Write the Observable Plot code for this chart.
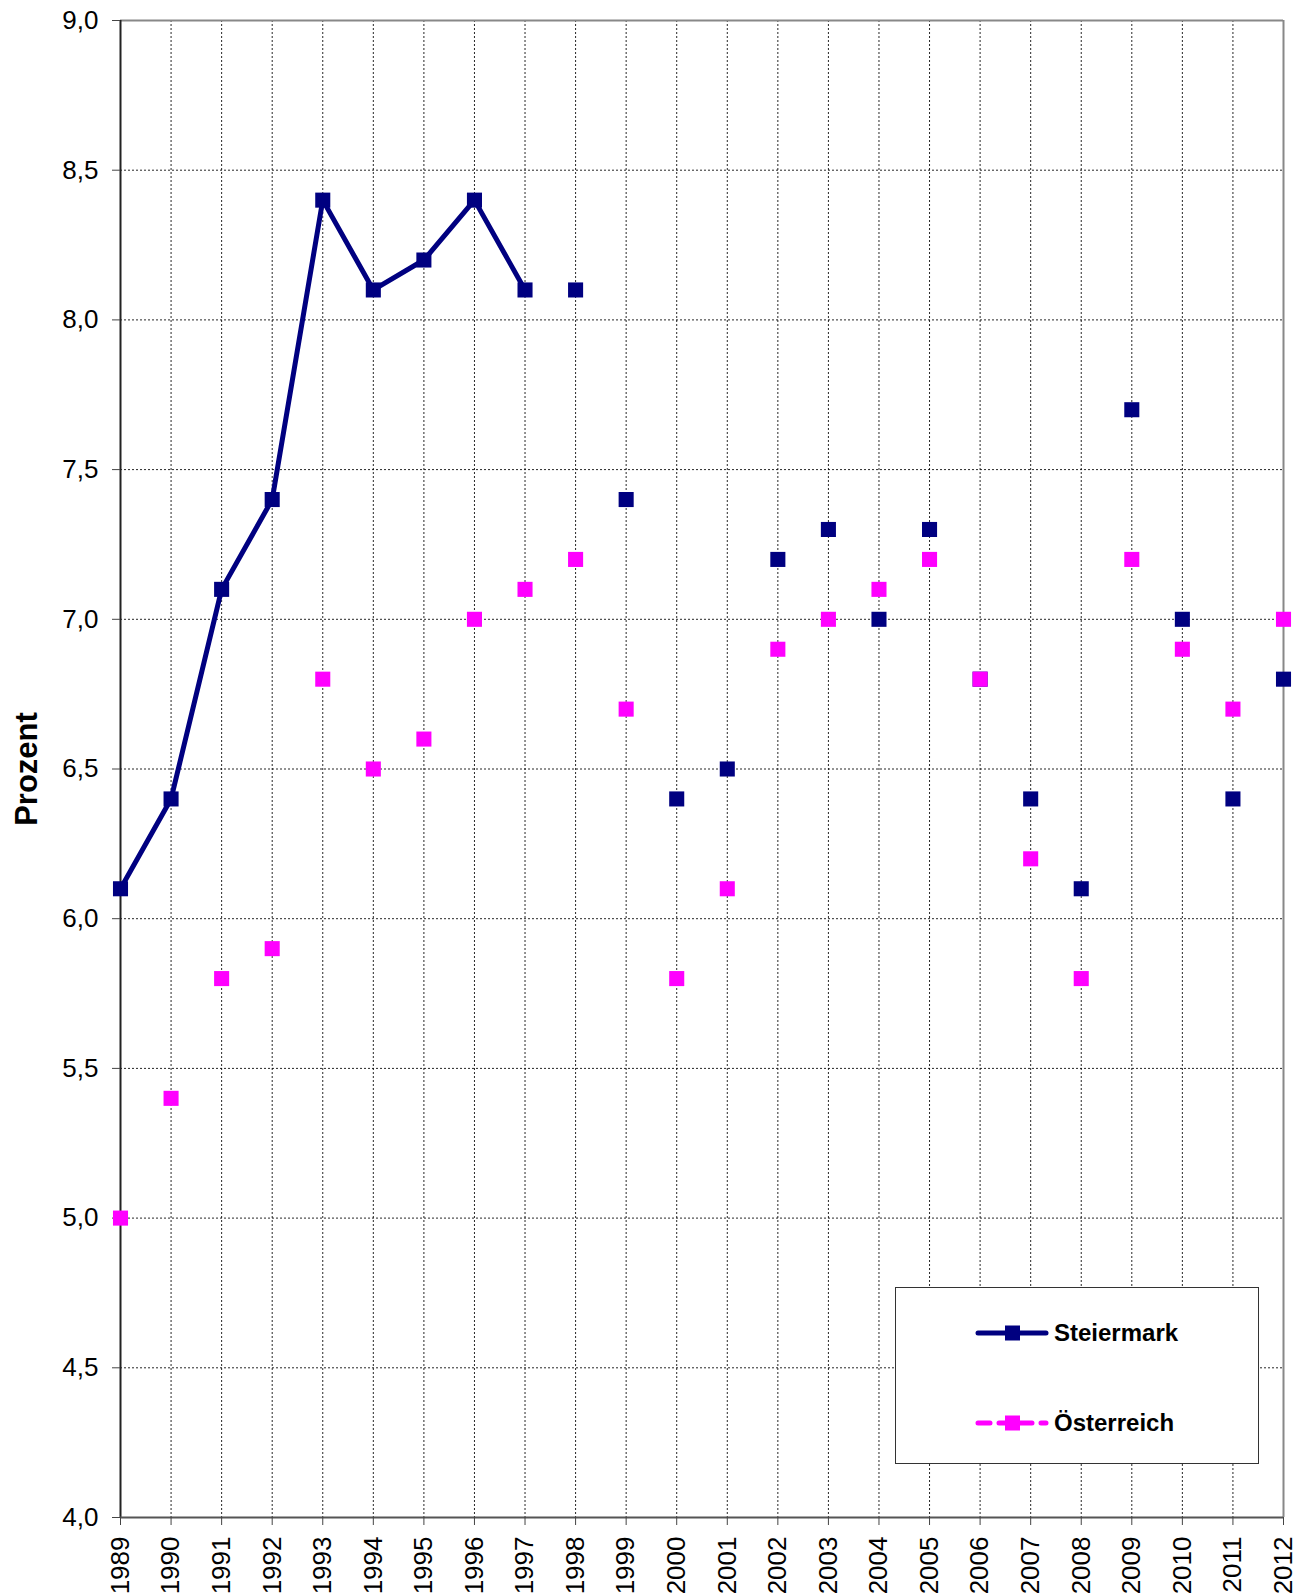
<!DOCTYPE html>
<html><head><meta charset="utf-8">
<script src="https://cdn.jsdelivr.net/npm/d3@7"></script>
<script src="https://cdn.jsdelivr.net/npm/@observablehq/plot@0.6"></script>
<style>
body{margin:0;background:#fff;font-family:"Liberation Sans",Arial,sans-serif;}
#wrap{position:relative;width:1303px;height:1595px;overflow:hidden;}
#legend{position:absolute;left:895px;top:1287px;width:362px;height:175px;border:1px solid #333;background:#fff;}
#legend .row{position:absolute;left:0;width:100%;height:40px;}
#legend svg{position:absolute;left:78px;top:0;}
#legend span{position:absolute;left:158px;top:50%;transform:translateY(-50%);font-weight:bold;font-size:24px;color:#000;white-space:nowrap;}
</style>
</head><body>
<div id="wrap"></div>
<script>
const years = [1989,1990,1991,1992,1993,1994,1995,1996,1997,1998,1999,2000,2001,2002,2003,2004,2005,2006,2007,2008,2009,2010,2011,2012];
const steiermark = [6.1,6.4,7.1,7.4,8.4,8.1,8.2,8.4,8.1,8.1,7.4,6.4,6.5,7.2,7.3,7.0,7.3,6.8,6.4,6.1,7.7,7.0,6.4,6.8];
const oesterreich = [5.0,5.4,5.8,5.9,6.8,6.5,6.6,7.0,7.1,7.2,6.7,5.8,6.1,6.9,7.0,7.1,7.2,6.8,6.2,5.8,7.2,6.9,6.7,7.0];
const yTicks = [4.0,4.5,5.0,5.5,6.0,6.5,7.0,7.5,8.0,8.5,9.0];
const seriesNames = ["Steiermark","Österreich"];
const seriesColors = ["#000080","#ff00ff"];
const lineEndYear = 1997; // the Steiermark line is only drawn up to this year

const st = years.map((y,i)=>({year:y, value:steiermark[i]}));
const at = years.map((y,i)=>({year:y, value:oesterreich[i]}));
const fmt = d => d.toFixed(1).replace(".", ",");

const chart = Plot.plot({
  width:1303, height:1595,
  marginLeft:120, marginRight:20, marginTop:20, marginBottom:78,
  x:{domain:[1989,2012]},
  y:{domain:[4,9]},
  style:{fontFamily:'"Liberation Sans", Arial, sans-serif', fontSize:"26px", color:"#000", background:"#fff"},
  marks:[
    Plot.gridY(yTicks, {stroke:"#000", strokeOpacity:0.85, strokeDasharray:"2,2"}),
    Plot.gridX(years, {stroke:"#000", strokeOpacity:0.85, strokeDasharray:"2,2"}),
    Plot.ruleY([9], {stroke:"#888", strokeWidth:2}),
    Plot.ruleX([2012], {stroke:"#888", strokeWidth:2}),
    Plot.ruleX([1989], {stroke:"#222", strokeWidth:2}),
    Plot.ruleY([4], {stroke:"#555", strokeWidth:2}),
    Plot.axisY({ticks:yTicks, tickFormat:fmt, tickSize:8, tickPadding:14, label:null, fontSize:26, stroke:"#444"}),
    Plot.axisX({ticks:years, tickFormat:d=>String(d), tickRotate:-90, tickSize:8, tickPadding:11, label:null, fontSize:26, stroke:"#444"}),
    Plot.line(st.filter(d=>d.year<=lineEndYear), {x:"year", y:"value", stroke:seriesColors[0], strokeWidth:5}),
    Plot.dot(st, {x:"year", y:"value", symbol:"square", r:8.5, fill:seriesColors[0]}),
    Plot.dot(at, {x:"year", y:"value", symbol:"square", r:8.5, fill:seriesColors[1]}),
    Plot.text(["Prozent"], {frameAnchor:"left", dx:-93, rotate:-90, textAnchor:"middle", lineAnchor:"middle", fontSize:31, fontWeight:"bold", fill:"#000"})
  ]
});
const wrap = document.getElementById("wrap");
wrap.appendChild(chart);

// legend
const legend = document.createElement("div");
legend.id = "legend";
const rowCenters = [45,135];
seriesNames.forEach((name,i)=>{
  const row = document.createElement("div");
  row.className = "row";
  row.style.top = (rowCenters[i]-20)+"px";
  const dash = i===0 ? "" : ' stroke-dasharray="12,9"';
  row.innerHTML = `<svg width="76" height="40"><line x1="4" x2="72" y1="20" y2="20" stroke="${seriesColors[i]}" stroke-width="5" stroke-linecap="round"${dash}/><rect x="31" y="12.5" width="15" height="15" fill="${seriesColors[i]}"/></svg><span>${name}</span>`;
  legend.appendChild(row);
});
wrap.appendChild(legend);
</script>
</body></html>
